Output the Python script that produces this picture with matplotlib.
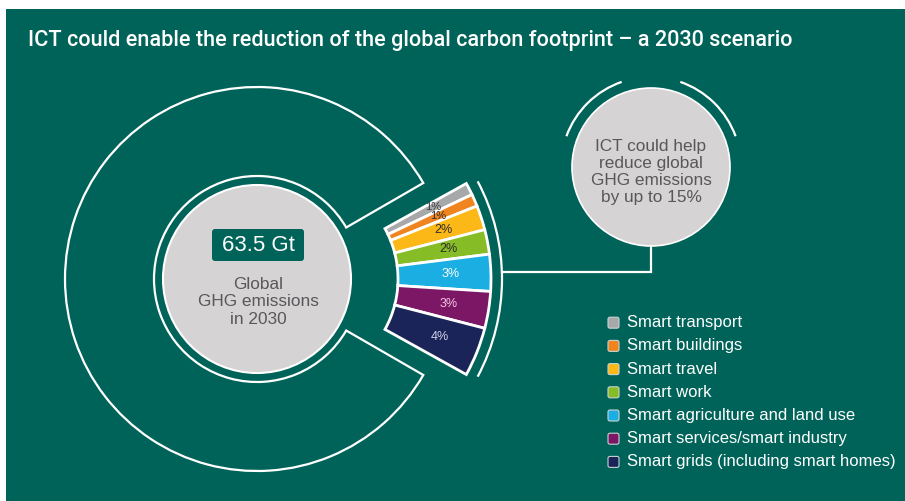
import numpy as np
import matplotlib
matplotlib.use('Agg')
from matplotlib import pyplot as plt
from matplotlib.patches import Wedge, Circle, Arc, Rectangle, FancyBboxPatch

# ICT enabled emission reductions by sector, % of global GHG in 2030
sectors = ['Smart transport', 'Smart buildings', 'Smart travel', 'Smart work',
           'Smart agriculture and land use', 'Smart services/smart industry',
           'Smart grids (including smart homes)']
shares = [1, 1, 2, 2, 3, 3, 4]
colors = ['#a7a8aa', '#f0841f', '#fbb817', '#86bc25', '#1aaee2', '#7c1766', '#1b2459']
label_colors = ['#3c3c3c', '#2c2c2c', '#2c2c2c', '#2c2c2c', '#ffffff', '#f2c6e6', '#cdd2ea']
total_gt = 63.5
max_cut = 15

W, H = 905, 501
TEAL = '#006359'
GREY = '#d5d3d4'
TXT = '#58585a'

plt.rcParams['font.family'] = ['Liberation Sans', 'DejaVu Sans']

fig = plt.figure(figsize=(W / 100, H / 100), dpi=100)
ax = fig.add_axes([0, 0, 1, 1])
ax.set_xlim(0, W)
ax.set_ylim(0, H)
ax.axis('off')


def Y(y):
    # pixel row from the top -> axis y
    return H - y


ax.add_patch(Rectangle((6, 0), W - 6, H - 9, facecolor=TEAL, edgecolor='none'))

ax.text(28, Y(40), 'ICT could enable the reduction of the global carbon footprint \u2013 a 2030 scenario',
        color='white', fontsize=15.6, family=['Roboto', 'DejaVu Sans'], fontweight='medium',
        ha='left', va='center')

# big "C" ring around the global total
c0 = (257, Y(279))
ax.add_patch(Wedge(c0, 192, 30, 330, width=89, fill=False, edgecolor='white', lw=1.6))
ax.add_patch(Circle(c0, 94, facecolor=GREY, edgecolor='white', lw=1.5))
ax.add_patch(FancyBboxPatch((212, Y(261)), 92, 32, boxstyle='round,pad=0,rounding_size=3',
                            facecolor=TEAL, edgecolor='none'))
ax.text(258, Y(245), f'{total_gt} Gt', color='white', fontsize=16, ha='center', va='center')
ax.text(258, Y(302), 'Global\nGHG emissions\nin 2030', color=TXT, fontsize=12.4, ha='center',
        va='center', linespacing=1.2)

# fan of sector shares
c1 = (294, Y(279))
span = 58.0
top = span / 2
unit = span / sum(shares)
a = top
for share, col, lc in zip(shares, colors, label_colors):
    a2 = a - share * unit
    ax.add_patch(Wedge(c1, 197, a2, a, width=93, facecolor=col, edgecolor='white', lw=2))
    mid = np.radians((a + a2) / 2)
    fs = 8 if share == 1 else 9
    ax.text(c1[0] + 157 * np.cos(mid), c1[1] + 157 * np.sin(mid), f'{share}%', color=lc,
            fontsize=fs, ha='center', va='center')
    a = a2

ax.add_patch(Arc(c1, 416, 416, theta1=-28, theta2=28, color='white', lw=1.6))

# connector to the 15% bubble
ax.plot([502, 651, 651], [Y(272), Y(272), Y(246)], color='white', lw=1.6, solid_joinstyle='miter')

c2 = (651, Y(167))
ax.add_patch(Circle(c2, 79, facecolor=GREY, edgecolor='white', lw=1.2))
ax.add_patch(Arc(c2, 180, 180, theta1=20, theta2=71, color='white', lw=1.6))
ax.add_patch(Arc(c2, 180, 180, theta1=109, theta2=160, color='white', lw=1.6))
ax.text(c2[0], Y(172), f'ICT could help\nreduce global\nGHG emissions\nby up to {max_cut}%',
        color=TXT, fontsize=12.4, ha='center', va='center', linespacing=1.15)

# legend
for i, (name, col) in enumerate(zip(sectors, colors)):
    yy = Y(322.7 + 23.2 * i)
    ax.add_patch(FancyBboxPatch((608, yy - 5.5), 11, 11, boxstyle='round,pad=0,rounding_size=2',
                                facecolor=col, edgecolor='#c9d3d1', lw=0.8))
    ax.text(627, yy, name, color='white', fontsize=12, ha='left', va='center')

fig.savefig('out.png', dpi=100, facecolor='white')
